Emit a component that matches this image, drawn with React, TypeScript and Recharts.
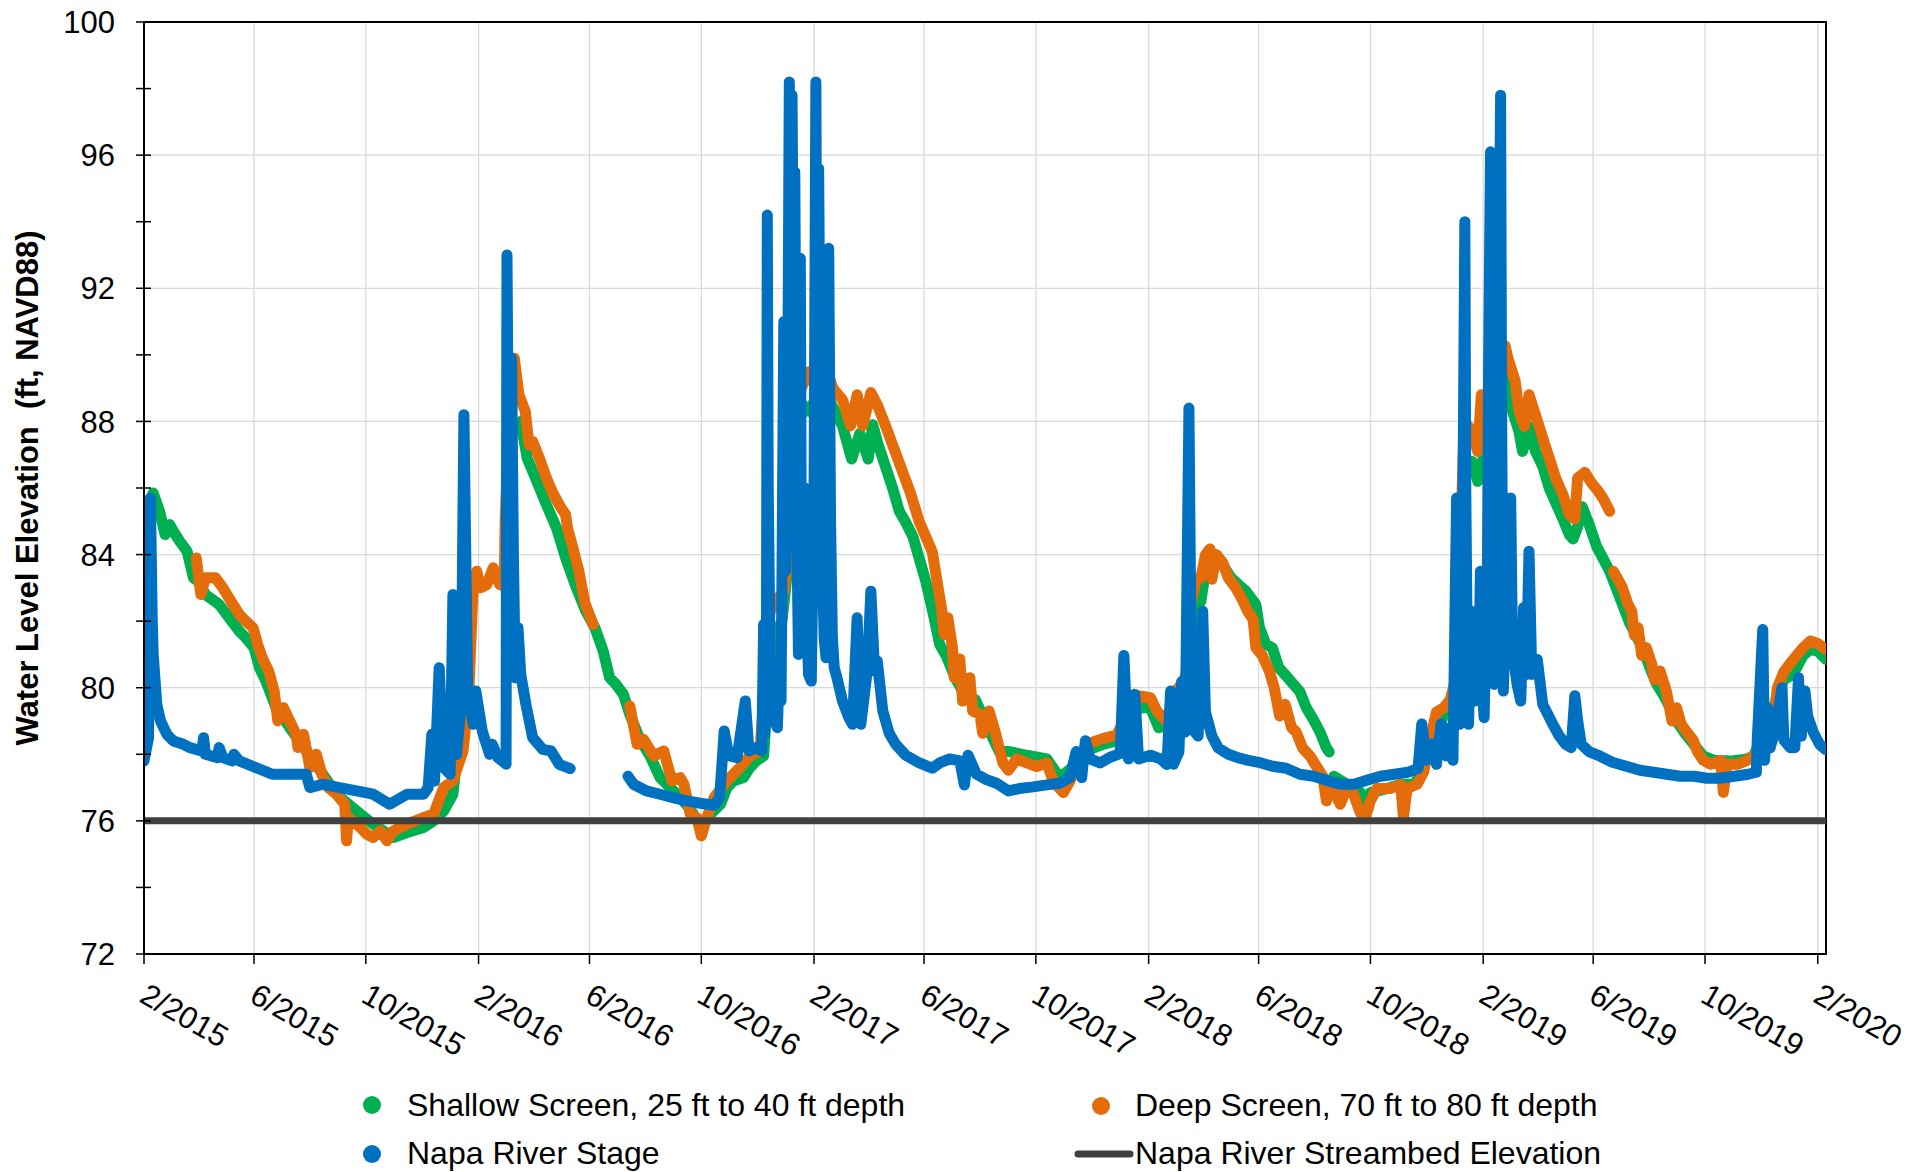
import React from 'react';
import { ComposedChart, Line, XAxis, YAxis, CartesianGrid, ReferenceArea, Legend } from 'recharts';

const FONT = '"Liberation Sans", Arial, Helvetica, sans-serif';

type Pt = [string, number | null];

// ---- axis definitions ----
const xTickText = [
  '2/2015', '6/2015', '10/2015', '2/2016', '6/2016', '10/2016', '2/2017', '6/2017',
  '10/2017', '2/2018', '6/2018', '10/2018', '2/2019', '6/2019', '10/2019', '2/2020',
];
const xDomainEnd = '2020-02-10';
const yMajorTicks = [72, 76, 80, 84, 88, 92, 96, 100];
const yAllTicks = [72, 74, 76, 78, 80, 82, 84, 86, 88, 90, 92, 94, 96, 98, 100];
const streambedElevation = 76;

const seriesNames = {
  shallow: 'Shallow Screen, 25 ft to 40 ft depth',
  deep: 'Deep Screen, 70 ft to 80 ft depth',
  stage: 'Napa River Stage',
  bed: 'Napa River Streambed Elevation',
};
const colors = { shallow: '#00B050', deep: '#E46C0A', stage: '#0070C0', bed: '#404040' };

// ---- series data ----
const shallowScreen: Pt[] = [
  ['2015-02-01', 83.0], ['2015-02-04', 84.5], ['2015-02-08', 85.6], ['2015-02-11', 85.85],
  ['2015-02-18', 85.3], ['2015-02-24', 84.6], ['2015-03-01', 84.9], ['2015-03-05', 84.7],
  ['2015-03-12', 84.4], ['2015-03-20', 84.1], ['2015-03-27', 83.3], ['2015-04-01', 83.2],
  ['2015-04-09', 82.8], ['2015-04-24', 82.5], ['2015-05-05', 82.1], ['2015-05-16', 81.7],
  ['2015-05-23', 81.5], ['2015-06-01', 81.2], ['2015-06-07', 80.6], ['2015-06-14', 80.2],
  ['2015-06-25', 79.4], ['2015-07-10', 78.8], ['2015-07-28', 78.1], ['2015-08-15', 77.4],
  ['2015-08-30', 76.8], ['2015-09-21', 76.3], ['2015-10-09', 75.9], ['2015-10-31', 75.5],
  ['2015-11-15', 75.65], ['2015-12-03', 75.8], ['2015-12-14', 76.0], ['2015-12-25', 76.3],
  ['2016-01-04', 76.8], ['2016-01-08', 77.8],
  ['2016-02-10', null],
  ['2016-03-18', 88.0], ['2016-03-25', 86.9], ['2016-04-03', 86.3], ['2016-04-15', 85.5],
  ['2016-04-26', 84.8], ['2016-05-06', 83.9], ['2016-05-17', 83.05], ['2016-05-28', 82.3],
  ['2016-06-07', 81.8], ['2016-06-16', 81.1], ['2016-06-23', 80.3], ['2016-06-30', 80.1],
  ['2016-07-08', 79.8], ['2016-07-15', 79.2], ['2016-07-26', 78.45], ['2016-08-06', 77.95],
  ['2016-08-17', 77.3], ['2016-08-28', 77.0], ['2016-09-08', 76.7], ['2016-09-19', 76.35],
  ['2016-09-30', 75.85], ['2016-10-11', 76.2], ['2016-10-22', 76.5], ['2016-10-29', 77.0],
  ['2016-11-05', 77.2], ['2016-11-16', 77.3], ['2016-11-23', 77.6], ['2016-11-30', 77.8],
  ['2016-12-08', 77.95], ['2016-12-14', 80.5], ['2016-12-20', 81.6], ['2016-12-28', 82.0],
  ['2017-01-03', 83.5], ['2017-01-10', 87.0], ['2017-01-20', 88.5], ['2017-01-27', 88.3],
  ['2017-02-08', 89.0], ['2017-02-15', 88.8], ['2017-02-22', 88.4], ['2017-03-04', 87.87],
  ['2017-03-14', 86.87], ['2017-03-23', 87.64], ['2017-04-01', 86.87], ['2017-04-06', 87.9],
  ['2017-04-12', 87.3], ['2017-04-20', 86.64], ['2017-04-28', 85.97], ['2017-05-05', 85.3],
  ['2017-05-12', 84.97], ['2017-05-20', 84.53], ['2017-05-27', 83.86], ['2017-06-03', 83.19],
  ['2017-06-12', 82.1], ['2017-06-18', 81.3], ['2017-06-25', 80.97], ['2017-07-05', 80.3],
  ['2017-07-13', 79.9], ['2017-07-27', 79.64], ['2017-08-08', 78.9], ['2017-08-22', 78.08],
  ['2017-09-02', 78.08], ['2017-09-21', 77.97], ['2017-10-13', 77.86], ['2017-10-27', 77.3],
  ['2017-11-11', 77.63], ['2017-11-25', 78.1], ['2017-12-13', 78.3], ['2017-12-28', 78.4],
  ['2018-01-11', 79.0], ['2018-01-22', 79.4], ['2018-02-03', 79.4], ['2018-02-12', 78.8],
  ['2018-02-21', 78.86], ['2018-02-28', 79.6], ['2018-03-06', 79.8], ['2018-03-13', 80.2],
  ['2018-03-18', 81.5], ['2018-03-23', 82.3], ['2018-03-30', 82.6], ['2018-04-04', 83.5],
  ['2018-04-11', 83.8], ['2018-04-18', 83.9], ['2018-04-25', 83.6], ['2018-05-02', 83.3],
  ['2018-05-10', 83.1], ['2018-05-18', 82.9], ['2018-05-29', 82.5], ['2018-06-02', 81.8],
  ['2018-06-09', 81.3], ['2018-06-16', 81.2], ['2018-06-23', 80.6], ['2018-07-01', 80.36],
  ['2018-07-09', 80.1], ['2018-07-16', 79.88], ['2018-07-23', 79.4], ['2018-07-31', 79.03],
  ['2018-08-07', 78.67], ['2018-08-14', 78.19], ['2018-08-17', 78.07],
  ['2018-08-19', null],
  ['2018-08-22', 77.34], ['2018-09-05', 77.1], ['2018-09-20', 76.85], ['2018-09-25', 76.37],
  ['2018-10-01', 76.85], ['2018-10-19', 76.97], ['2018-11-03', 77.1], ['2018-11-18', 77.1],
  ['2018-11-28', 77.58], ['2018-12-05', 78.3], ['2018-12-12', 78.67], ['2018-12-20', 79.15],
  ['2018-12-30', 79.4], ['2019-01-03', 80.3], ['2019-01-08', 84.0], ['2019-01-12', 86.6],
  ['2019-01-20', 86.8], ['2019-01-26', 86.2], ['2019-01-30', 86.6], ['2019-02-05', 87.5],
  ['2019-02-13', 88.0], ['2019-02-20', 89.6], ['2019-02-25', 89.2], ['2019-03-05', 88.3],
  ['2019-03-12', 87.7], ['2019-03-16', 87.1], ['2019-03-23', 87.85], ['2019-03-30', 87.1],
  ['2019-04-07', 86.65], ['2019-04-14', 86.0], ['2019-04-21', 85.56], ['2019-04-29', 85.07],
  ['2019-05-06', 84.6], ['2019-05-10', 84.47], ['2019-05-15', 84.83], ['2019-05-20', 85.44],
  ['2019-05-27', 84.95], ['2019-06-05', 84.23], ['2019-06-12', 83.87], ['2019-06-19', 83.5],
  ['2019-06-26', 83.0], ['2019-07-03', 82.5], ['2019-07-11', 81.93], ['2019-07-18', 81.57],
  ['2019-07-26', 81.1], ['2019-08-02', 80.6], ['2019-08-09', 80.12], ['2019-08-17', 79.76],
  ['2019-08-24', 79.4], ['2019-08-31', 79.0], ['2019-09-08', 78.67], ['2019-09-15', 78.43],
  ['2019-09-22', 78.19], ['2019-09-29', 77.95], ['2019-10-11', 77.82], ['2019-10-30', 77.8],
  ['2019-11-15', 77.85], ['2019-11-23', 77.95], ['2019-12-10', 79.0], ['2019-12-19', 79.76],
  ['2019-12-26', 80.24], ['2020-01-02', 80.36], ['2020-01-09', 80.6], ['2020-01-16', 80.97],
  ['2020-01-24', 81.15], ['2020-02-01', 81.1], ['2020-02-10', 80.85],
];

const deepScreen: Pt[] = [
  ['2015-03-30', 83.9], ['2015-04-04', 82.8], ['2015-04-09', 83.3], ['2015-04-20', 83.3],
  ['2015-04-28', 83.0], ['2015-05-08', 82.55], ['2015-05-16', 82.2], ['2015-05-23', 82.0],
  ['2015-05-31', 81.8], ['2015-06-05', 81.3], ['2015-06-10', 80.9], ['2015-06-17', 80.5],
  ['2015-06-23', 79.9], ['2015-06-27', 79.0], ['2015-07-03', 79.4], ['2015-07-10', 79.0],
  ['2015-07-17', 78.6], ['2015-07-19', 78.2], ['2015-07-25', 78.6], ['2015-08-01', 77.6],
  ['2015-08-08', 78.0], ['2015-08-14', 77.4], ['2015-08-21', 77.0], ['2015-08-30', 76.8],
  ['2015-09-08', 76.5], ['2015-09-10', 75.4], ['2015-09-12', 76.1], ['2015-09-25', 75.8],
  ['2015-10-02', 75.6], ['2015-10-09', 75.5], ['2015-10-17', 75.7], ['2015-10-24', 75.4],
  ['2015-10-31', 75.7], ['2015-11-15', 75.9], ['2015-12-03', 76.1], ['2015-12-14', 76.2],
  ['2015-12-25', 77.0], ['2016-01-04', 77.2], ['2016-01-15', 78.1], ['2016-01-21', 79.6],
  ['2016-01-26', 83.0], ['2016-01-30', 83.5], ['2016-02-03', 83.0], ['2016-02-10', 83.1],
  ['2016-02-17', 83.6], ['2016-02-24', 83.1], ['2016-02-29', 83.05], ['2016-03-01', 85.0],
  ['2016-03-05', 88.1], ['2016-03-11', 89.9], ['2016-03-16', 88.8], ['2016-03-23', 88.3],
  ['2016-03-27', 87.3], ['2016-03-31', 87.4], ['2016-04-08', 86.85], ['2016-04-15', 86.3],
  ['2016-04-22', 85.85], ['2016-05-01', 85.4], ['2016-05-06', 85.2], ['2016-05-08', 84.8],
  ['2016-05-13', 84.3], ['2016-05-20', 83.55], ['2016-05-27', 82.55], ['2016-06-05', 81.9],
  ['2016-06-20', null],
  ['2016-07-15', 79.45], ['2016-07-23', 78.3], ['2016-07-30', 78.45], ['2016-08-10', 77.95],
  ['2016-08-21', 78.1], ['2016-08-30', 77.2], ['2016-09-08', 77.3], ['2016-09-12', 77.1],
  ['2016-09-19', 76.2], ['2016-09-26', 76.1], ['2016-10-01', 75.55], ['2016-10-07', 76.1],
  ['2016-10-15', 76.7], ['2016-10-29', 77.2], ['2016-11-12', 77.6], ['2016-11-23', 77.95],
  ['2016-12-04', 78.1], ['2016-12-15', 82.3], ['2016-12-24', 82.7], ['2016-12-30', 82.9],
  ['2017-01-04', 84.0], ['2017-01-08', 88.0], ['2017-01-12', 89.5], ['2017-01-18', 89.0],
  ['2017-01-27', 89.5], ['2017-02-01', 89.3], ['2017-02-05', 91.8], ['2017-02-09', 91.5],
  ['2017-02-13', 89.65], ['2017-02-22', 88.98], ['2017-03-04', 88.65], ['2017-03-13', 87.87],
  ['2017-03-20', 88.8], ['2017-03-26', 87.87], ['2017-04-04', 88.87], ['2017-04-11', 88.5],
  ['2017-04-20', 87.87], ['2017-04-29', 87.2], ['2017-05-08', 86.53], ['2017-05-17', 85.86],
  ['2017-05-27', 84.97], ['2017-06-03', 84.53], ['2017-06-10', 84.08], ['2017-06-14', 83.4],
  ['2017-06-20', 82.4], ['2017-06-23', 81.6], ['2017-06-27', 82.1], ['2017-07-02', 81.2],
  ['2017-07-04', 80.3], ['2017-07-10', 80.86], ['2017-07-13', 79.6], ['2017-07-21', 80.3],
  ['2017-07-24', 79.3], ['2017-08-01', 79.2], ['2017-08-04', 78.63], ['2017-08-11', 79.3],
  ['2017-08-18', 78.63], ['2017-08-26', 77.74], ['2017-09-01', 77.52], ['2017-09-10', 77.86],
  ['2017-09-21', 77.74], ['2017-10-02', 77.63], ['2017-10-13', 77.74], ['2017-10-20', 77.19],
  ['2017-10-31', 76.85], ['2017-11-07', 77.19], ['2017-11-25', 78.3], ['2017-12-13', 78.47],
  ['2017-12-28', 78.58], ['2018-01-11', 79.3], ['2018-01-22', 79.75], ['2018-02-03', 79.7],
  ['2018-02-10', 79.3], ['2018-02-21', 78.97], ['2018-02-28', 79.86], ['2018-03-06', 80.0],
  ['2018-03-14', 80.36], ['2018-03-17', 82.3], ['2018-03-25', 83.26], ['2018-03-30', 83.3],
  ['2018-04-04', 83.99], ['2018-04-09', 84.17], ['2018-04-11', 83.26], ['2018-04-16', 84.0],
  ['2018-04-23', 83.75], ['2018-04-29', 83.3], ['2018-05-07', 83.0], ['2018-05-14', 82.66],
  ['2018-05-20', 82.3], ['2018-05-26', 82.05], ['2018-05-29', 81.2], ['2018-06-05', 80.97],
  ['2018-06-13', 80.48], ['2018-06-18', 80.0], ['2018-06-24', 79.15], ['2018-06-30', 79.5],
  ['2018-07-07', 78.8], ['2018-07-12', 78.67], ['2018-07-19', 78.19], ['2018-07-27', 77.95],
  ['2018-08-03', 77.64], ['2018-08-10', 77.34], ['2018-08-14', 76.6], ['2018-08-18', 77.2],
  ['2018-08-25', 76.73], ['2018-08-29', 76.5], ['2018-09-05', 76.97], ['2018-09-12', 76.85],
  ['2018-09-20', 76.24], ['2018-09-25', 76.06], ['2018-10-01', 76.6], ['2018-10-08', 76.97],
  ['2018-10-23', 76.97], ['2018-11-03', 77.1], ['2018-11-06', 76.1], ['2018-11-10', 76.97],
  ['2018-11-21', 77.1], ['2018-11-28', 77.46], ['2018-12-05', 78.43], ['2018-12-12', 79.27],
  ['2018-12-20', 79.4], ['2018-12-27', 79.64], ['2019-01-03', 80.36], ['2019-01-07', 84.0],
  ['2019-01-11', 87.8], ['2019-01-16', 87.85], ['2019-01-21', 87.6], ['2019-01-26', 87.1],
  ['2019-01-30', 88.8], ['2019-02-03', 88.1], ['2019-02-08', 89.0], ['2019-02-14', 90.4],
  ['2019-02-20', 89.8], ['2019-02-25', 90.27], ['2019-02-28', 89.9], ['2019-03-08', 89.2],
  ['2019-03-12', 88.3], ['2019-03-18', 87.85], ['2019-03-23', 88.8], ['2019-03-30', 88.2],
  ['2019-04-07', 87.5], ['2019-04-14', 86.9], ['2019-04-21', 86.3], ['2019-04-29', 85.8],
  ['2019-05-06', 85.2], ['2019-05-12', 85.07], ['2019-05-15', 86.3], ['2019-05-23', 86.47],
  ['2019-05-30', 86.16], ['2019-06-06', 85.92], ['2019-06-12', 85.68], ['2019-06-19', 85.3],
  ['2019-06-21', null],
  ['2019-06-23', 83.5], ['2019-06-28', 83.26], ['2019-07-03', 83.0], ['2019-07-09', 82.5],
  ['2019-07-13', 82.3], ['2019-07-16', 81.57], ['2019-07-20', 81.8], ['2019-07-24', 80.97],
  ['2019-07-29', 81.2], ['2019-08-04', 80.7], ['2019-08-07', 80.24], ['2019-08-13', 80.5],
  ['2019-08-20', 79.88], ['2019-08-26', 79.0], ['2019-08-31', 79.4], ['2019-09-05', 78.9],
  ['2019-09-11', 78.67], ['2019-09-18', 78.43], ['2019-09-23', 78.07], ['2019-09-29', 77.82],
  ['2019-10-07', 77.7], ['2019-10-18', 77.82], ['2019-10-21', 76.86], ['2019-10-25', 77.7],
  ['2019-11-05', 77.7], ['2019-11-16', 77.82], ['2019-11-23', 77.95], ['2019-12-10', 78.5],
  ['2019-12-15', 79.15], ['2019-12-19', 80.0], ['2019-12-26', 80.48], ['2020-01-02', 80.73],
  ['2020-01-09', 80.97], ['2020-01-16', 81.2], ['2020-01-24', 81.4], ['2020-02-01', 81.33],
  ['2020-02-10', 81.15],
];

const riverStage: Pt[] = [
  ['2015-02-01', 77.8], ['2015-02-06', 78.5], ['2015-02-08', 85.7], ['2015-02-10', 82.0],
  ['2015-02-11', 81.0], ['2015-02-15', 79.5], ['2015-02-19', 79.0], ['2015-02-26', 78.6],
  ['2015-03-05', 78.4], ['2015-03-16', 78.3], ['2015-03-23', 78.2], ['2015-04-05', 78.1],
  ['2015-04-07', 78.5], ['2015-04-09', 78.0], ['2015-04-22', 77.9], ['2015-04-24', 78.2],
  ['2015-04-28', 77.9], ['2015-05-08', 77.8], ['2015-05-10', 78.0], ['2015-05-16', 77.8],
  ['2015-06-03', 77.6], ['2015-06-21', 77.4], ['2015-07-10', 77.4], ['2015-07-28', 77.4],
  ['2015-08-01', 77.0], ['2015-08-15', 77.1], ['2015-09-02', 77.0], ['2015-09-21', 76.9],
  ['2015-10-09', 76.8], ['2015-10-27', 76.5], ['2015-11-15', 76.8], ['2015-12-03', 76.8],
  ['2015-12-08', 77.0], ['2015-12-12', 78.6], ['2015-12-15', 77.2], ['2015-12-20', 80.6],
  ['2015-12-25', 77.6], ['2016-01-01', 77.4], ['2016-01-04', 82.8], ['2016-01-08', 78.0],
  ['2016-01-13', 79.5], ['2016-01-16', 88.2], ['2016-01-20', 80.0], ['2016-01-26', 78.9],
  ['2016-01-29', 79.9], ['2016-02-05', 78.7], ['2016-02-13', 78.0], ['2016-02-16', 78.3],
  ['2016-02-22', 77.9], ['2016-02-27', 77.8], ['2016-03-02', 77.7], ['2016-03-03', 93.0],
  ['2016-03-05', 85.0], ['2016-03-08', 89.9], ['2016-03-10', 84.0], ['2016-03-12', 80.3],
  ['2016-03-15', 81.8], ['2016-03-18', 80.4], ['2016-03-24', 79.45], ['2016-03-31', 78.5],
  ['2016-04-11', 78.15], ['2016-04-20', 78.1], ['2016-04-29', 77.7], ['2016-05-11', 77.57],
  ['2016-06-15', null],
  ['2016-07-13', 77.34], ['2016-07-19', 77.1], ['2016-08-02', 76.9], ['2016-08-17', 76.8],
  ['2016-08-31', 76.7], ['2016-09-15', 76.6], ['2016-09-30', 76.53], ['2016-10-15', 76.47],
  ['2016-10-21', 76.7], ['2016-10-26', 78.7], ['2016-10-31', 77.96], ['2016-11-09', 77.9],
  ['2016-11-18', 79.6], ['2016-11-22', 78.1], ['2016-11-30', 78.2], ['2016-12-06', 78.1],
  ['2016-12-08', 81.9], ['2016-12-09', 78.6], ['2016-12-11', 80.0], ['2016-12-12', 94.2],
  ['2016-12-13', 86.0], ['2016-12-15', 81.0], ['2016-12-17', 79.5], ['2016-12-20', 79.0],
  ['2016-12-23', 78.8], ['2016-12-25', 80.5], ['2016-12-27', 79.6], ['2016-12-30', 91.0],
  ['2017-01-01', 83.5], ['2017-01-03', 87.0], ['2017-01-05', 98.2], ['2017-01-06', 90.0],
  ['2017-01-08', 97.8], ['2017-01-10', 89.0], ['2017-01-11', 95.5], ['2017-01-13', 85.0],
  ['2017-01-15', 81.0], ['2017-01-17', 92.9], ['2017-01-18', 85.0], ['2017-01-20', 81.5],
  ['2017-01-22', 86.0], ['2017-01-24', 82.0], ['2017-01-26', 80.4], ['2017-01-29', 80.2],
  ['2017-02-01', 86.0], ['2017-02-03', 98.2], ['2017-02-04', 90.5], ['2017-02-06', 95.6],
  ['2017-02-08', 88.0], ['2017-02-10', 84.0], ['2017-02-12', 81.5], ['2017-02-14', 80.9],
  ['2017-02-16', 86.0], ['2017-02-17', 93.2], ['2017-02-19', 85.0], ['2017-02-21', 81.5],
  ['2017-02-23', 80.6], ['2017-02-26', 80.3], ['2017-03-04', 79.6], ['2017-03-11', 79.1],
  ['2017-03-15', 78.9], ['2017-03-20', 82.1], ['2017-03-24', 78.9], ['2017-03-31', 80.5],
  ['2017-04-04', 82.9], ['2017-04-08', 80.5], ['2017-04-11', 80.8], ['2017-04-17', 79.3],
  ['2017-04-24', 78.63], ['2017-05-01', 78.3], ['2017-05-12', 77.97], ['2017-05-27', 77.74],
  ['2017-06-10', 77.58], ['2017-06-18', 77.74], ['2017-06-29', 77.86], ['2017-07-10', 77.8],
  ['2017-07-15', 77.08], ['2017-07-19', 77.97], ['2017-07-28', 77.41], ['2017-08-08', 77.24],
  ['2017-08-19', 77.13], ['2017-09-01', 76.9], ['2017-09-13', 76.97], ['2017-09-28', 77.02],
  ['2017-10-13', 77.08], ['2017-10-27', 77.13], ['2017-11-07', 77.3], ['2017-11-14', 78.08],
  ['2017-11-20', 77.3], ['2017-11-24', 78.41], ['2017-11-29', 77.86], ['2017-12-10', 77.74],
  ['2017-12-21', 77.91], ['2018-01-01', 78.02], ['2018-01-05', 80.97], ['2018-01-10', 77.86],
  ['2018-01-17', 79.8], ['2018-01-21', 77.86], ['2018-02-03', 77.97], ['2018-02-14', 77.86],
  ['2018-02-21', 77.69], ['2018-02-25', 79.9], ['2018-02-28', 77.7], ['2018-03-06', 78.07],
  ['2018-03-09', 80.18], ['2018-03-13', 78.67], ['2018-03-17', 88.4], ['2018-03-20', 78.79],
  ['2018-03-27', 78.55], ['2018-04-01', 82.3], ['2018-04-04', 79.27], ['2018-04-11', 78.55],
  ['2018-04-18', 78.19], ['2018-04-29', 78.0], ['2018-05-10', 77.89], ['2018-05-21', 77.82],
  ['2018-06-01', 77.76], ['2018-06-16', 77.64], ['2018-07-01', 77.58], ['2018-07-16', 77.4],
  ['2018-07-31', 77.34], ['2018-08-14', 77.22], ['2018-08-29', 77.1], ['2018-09-13', 77.1],
  ['2018-09-27', 77.22], ['2018-10-12', 77.34], ['2018-10-27', 77.4], ['2018-11-11', 77.46],
  ['2018-11-22', 77.58], ['2018-11-26', 78.91], ['2018-12-01', 77.82], ['2018-12-07', 78.31],
  ['2018-12-12', 77.7], ['2018-12-17', 78.91], ['2018-12-23', 77.95], ['2018-12-25', 78.79],
  ['2018-12-30', 77.82], ['2019-01-03', 85.7], ['2019-01-05', 79.5], ['2019-01-06', 78.9],
  ['2019-01-09', 79.3], ['2019-01-10', 86.0], ['2019-01-12', 94.0], ['2019-01-13', 86.0],
  ['2019-01-15', 80.0], ['2019-01-16', 78.9], ['2019-01-19', 82.3], ['2019-01-21', 80.5],
  ['2019-01-23', 79.6], ['2019-01-27', 80.2], ['2019-01-29', 83.5], ['2019-01-31', 80.0],
  ['2019-02-02', 79.1], ['2019-02-04', 81.5], ['2019-02-05', 80.4], ['2019-02-07', 90.0],
  ['2019-02-09', 96.1], ['2019-02-10', 88.0], ['2019-02-12', 82.5], ['2019-02-13', 80.1],
  ['2019-02-15', 84.0], ['2019-02-16', 82.3], ['2019-02-18', 91.0], ['2019-02-20', 97.8],
  ['2019-02-21', 89.0], ['2019-02-22', 84.0], ['2019-02-23', 79.9], ['2019-02-25', 82.0],
  ['2019-02-27', 81.7], ['2019-03-01', 83.0], ['2019-03-03', 85.7], ['2019-03-05', 81.1],
  ['2019-03-10', 80.1], ['2019-03-14', 79.6], ['2019-03-17', 82.4], ['2019-03-20', 80.4],
  ['2019-03-23', 84.1], ['2019-03-26', 80.4], ['2019-04-01', 80.85], ['2019-04-07', 79.5],
  ['2019-04-18', 78.9], ['2019-04-25', 78.55], ['2019-05-02', 78.3], ['2019-05-08', 78.2],
  ['2019-05-12', 79.76], ['2019-05-15', 79.03], ['2019-05-19', 78.3], ['2019-05-28', 78.07],
  ['2019-06-08', 77.95], ['2019-06-22', 77.76], ['2019-07-07', 77.64], ['2019-07-22', 77.52],
  ['2019-08-06', 77.46], ['2019-08-20', 77.4], ['2019-09-04', 77.34], ['2019-09-19', 77.34],
  ['2019-10-03', 77.28], ['2019-10-18', 77.28], ['2019-11-02', 77.34], ['2019-11-17', 77.4],
  ['2019-11-26', 77.46], ['2019-11-27', 78.43], ['2019-12-03', 81.75], ['2019-12-05', 77.82],
  ['2019-12-08', 79.4], ['2019-12-11', 78.19], ['2019-12-16', 78.67], ['2019-12-24', 80.0],
  ['2019-12-26', 78.43], ['2020-01-02', 78.2], ['2020-01-07', 78.2], ['2020-01-11', 80.3],
  ['2020-01-14', 78.55], ['2020-01-18', 79.9], ['2020-01-21', 79.15], ['2020-01-27', 78.67],
  ['2020-02-03', 78.3], ['2020-02-10', 78.13],
];

// ---- helpers ----
const ORIGIN = Date.UTC(2015, 1, 1);
const toDay = (s: string) => {
  const [y, m, d] = s.split('-').map(Number);
  return Math.round((Date.UTC(y, m - 1, d) - ORIGIN) / 86400000);
};
const labelToDay = (lab: string) => {
  const [m, y] = lab.split('/').map(Number);
  return toDay(`${y}-${String(m).padStart(2, '0')}-01`);
};
const toRows = (pts: Pt[]) => pts.map(([s, v]) => ({ d: toDay(s), v }));

const xTickDays = xTickText.map(labelToDay);
const xMax = toDay(xDomainEnd);

const shallowRows = toRows(shallowScreen);
const deepRows = toRows(deepScreen);
const stageRows = toRows(riverStage);
const bedRows = [
  { d: 0, v: streambedElevation },
  { d: xMax, v: streambedElevation },
];

const W = 1925;
const H = 1172;
const SERIES_WIDTH = 11;

const XTick = (props: any) => {
  const { x, y, payload } = props;
  const idx = xTickDays.indexOf(payload.value);
  const label = idx >= 0 ? xTickText[idx] : '';
  const ax = x - 6;
  const ay = y + 47;
  return (
    <g>
      <line x1={x} x2={x} y1={y} y2={y + 10} stroke="#000" strokeWidth={1.5} />
      <text
        x={ax}
        y={ay}
        transform={`rotate(30 ${ax} ${ay})`}
        fontSize={31}
        fontFamily={FONT}
        fill="#000"
      >
        {label}
      </text>
    </g>
  );
};

const YTick = (props: any) => {
  const { x, y, payload } = props;
  const v = payload.value as number;
  const major = yMajorTicks.includes(v);
  return (
    <g>
      <line x1={x - 8} x2={x + 7} y1={y} y2={y} stroke="#000" strokeWidth={1.5} />
      {major && (
        <text
          x={x - 29}
          y={y}
          dy="0.36em"
          textAnchor="end"
          fontSize={31}
          fontFamily={FONT}
          fill="#000"
        >
          {v}
        </text>
      )}
    </g>
  );
};

const YLabel = (props: any) => {
  const vb = props.viewBox || { x: 0, y: 22, width: 144, height: 932 };
  const cx = vb.x + 38;
  const cy = vb.y + vb.height / 2;
  return (
    <text
      x={cx}
      y={cy}
      transform={`rotate(-90 ${cx} ${cy})`}
      textAnchor="middle"
      fontSize={31}
      fontWeight="bold"
      fontFamily={FONT}
      fill="#000"
      style={{ whiteSpace: 'pre' }}
    >
      {'Water Level Elevation  (ft, NAVD88)'}
    </text>
  );
};

const LegendBox = () => {
  const fs = 32;
  return (
    <svg width={W} height={H} style={{ position: 'absolute', left: 0, top: 0 }}>
      <circle cx={372} cy={1105} r={9} fill={colors.shallow} />
      <text x={407} y={1116} fontSize={fs} fontFamily={FONT} fill="#000">
        {seriesNames.shallow}
      </text>
      <circle cx={1101} cy={1106} r={9} fill={colors.deep} />
      <text x={1135} y={1116} fontSize={fs} fontFamily={FONT} fill="#000">
        {seriesNames.deep}
      </text>
      <circle cx={372} cy={1154} r={9} fill={colors.stage} />
      <text x={407} y={1164} fontSize={fs} fontFamily={FONT} fill="#000">
        {seriesNames.stage}
      </text>
      <line x1={1078} x2={1130} y1={1154} y2={1154} stroke={colors.bed} strokeWidth={7} strokeLinecap="round" />
      <text x={1135} y={1164} fontSize={fs} fontFamily={FONT} fill="#000">
        {seriesNames.bed}
      </text>
    </svg>
  );
};

export default function App() {
  return (
    <div style={{ position: 'absolute', left: 0, top: 0, width: W, height: H, background: '#fff' }}>
      <ComposedChart width={W} height={H} margin={{ top: 22, right: 99, bottom: 0, left: 0 }}>
        <CartesianGrid
          horizontalValues={yMajorTicks}
          verticalValues={xTickDays}
          stroke="#d9d9d9"
          strokeWidth={1.3}
        />
        <XAxis
          type="number"
          dataKey="d"
          domain={[0, xMax]}
          allowDataOverflow
          ticks={xTickDays}
          interval={0}
          height={218}
          tickSize={0}
          tickMargin={0}
          tickLine={false}
          axisLine={{ stroke: '#000', strokeWidth: 2 }}
          tick={<XTick />}
        />
        <YAxis
          type="number"
          domain={[72, 100]}
          allowDataOverflow
          ticks={yAllTicks}
          interval={0}
          width={144}
          tickSize={0}
          tickMargin={0}
          tickLine={false}
          axisLine={{ stroke: '#000', strokeWidth: 2 }}
          tick={<YTick />}
          label={<YLabel />}
        />
        <ReferenceArea x1={0} x2={xMax} y1={72} y2={100} fill="none" stroke="#000" strokeWidth={2} />
        <Line
          data={shallowRows}
          dataKey="v"
          name={seriesNames.shallow}
          stroke={colors.shallow}
          strokeWidth={SERIES_WIDTH}
          strokeLinejoin="round"
          strokeLinecap="round"
          dot={false}
          activeDot={false}
          isAnimationActive={false}
          connectNulls={false}
        />
        <Line
          data={deepRows}
          dataKey="v"
          name={seriesNames.deep}
          stroke={colors.deep}
          strokeWidth={SERIES_WIDTH}
          strokeLinejoin="round"
          strokeLinecap="round"
          dot={false}
          activeDot={false}
          isAnimationActive={false}
          connectNulls={false}
        />
        <Line
          data={stageRows}
          dataKey="v"
          name={seriesNames.stage}
          stroke={colors.stage}
          strokeWidth={SERIES_WIDTH}
          strokeLinejoin="round"
          strokeLinecap="round"
          dot={false}
          activeDot={false}
          isAnimationActive={false}
          connectNulls={false}
        />
        <Line
          data={bedRows}
          dataKey="v"
          name={seriesNames.bed}
          stroke={colors.bed}
          strokeWidth={7}
          dot={false}
          activeDot={false}
          isAnimationActive={false}
        />
        <Legend
          verticalAlign="middle"
          align="center"
          layout="horizontal"
          content={() => <LegendBox />}
          wrapperStyle={{ position: 'absolute', left: 0, top: 0, width: W, height: H, pointerEvents: 'none' }}
        />
      </ComposedChart>
    </div>
  );
}
